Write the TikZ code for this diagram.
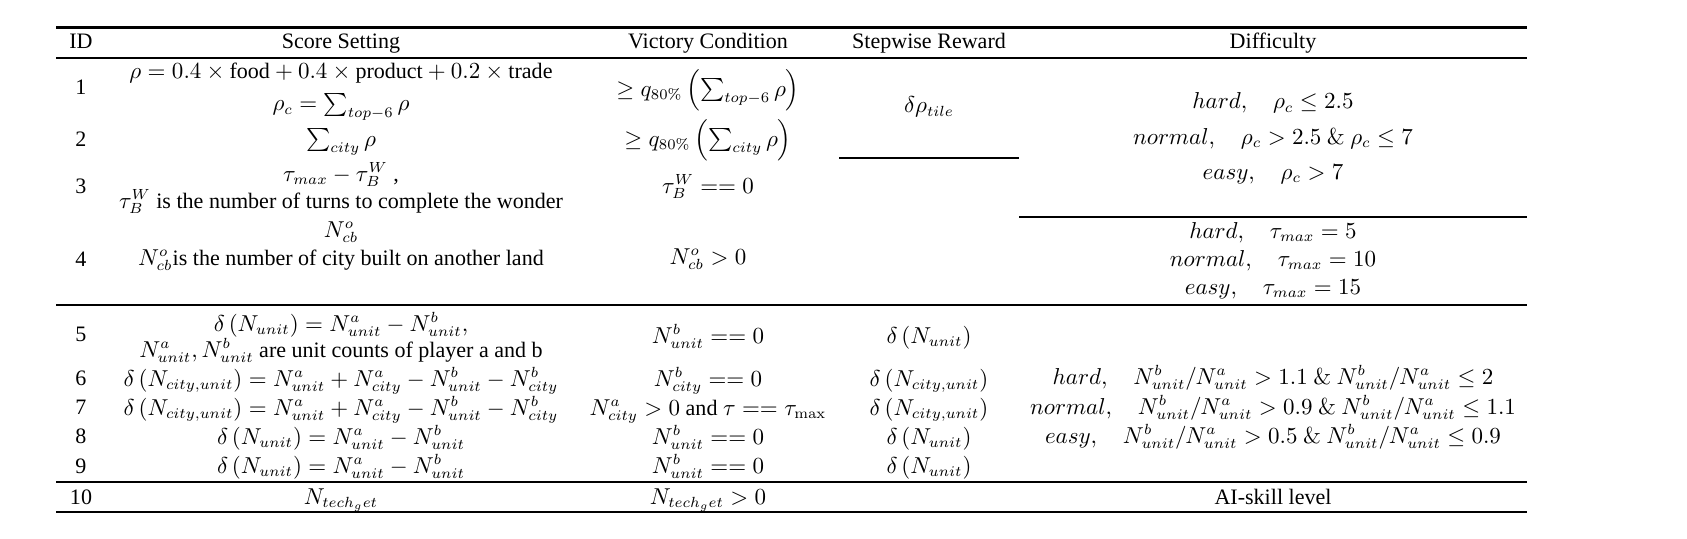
\documentclass[tikz,border=0pt]{standalone}
\usepackage[no-math]{fontspec}
\setmainfont{Liberation Serif}
\usepackage{amsmath}
\usetikzlibrary{positioning}

\tikzset{
  cell/.style={anchor=base,inner sep=0pt,font=\fontsize{10.5}{12.6}\selectfont},
  heavyrule/.style={line width=1.1pt},
  lightrule/.style={line width=0.55pt}
}

\begin{document}
\begin{tikzpicture}[x=0.4762pt,y=-0.4762pt]
  \useasboundingbox (0,0) rectangle (1687,539);
  % rules of the table
  \draw[heavyrule] (56,27.5) -- (1527,27.5);
  \draw[lightrule] (56,58) -- (1527,58);
  \draw[lightrule] (839,158) -- (1019,158);
  \draw[lightrule] (1019,217) -- (1527,217);
  \draw[lightrule] (56,305) -- (1527,305);
  \draw[lightrule] (56,482) -- (1527,482);
  \draw[heavyrule] (56,512) -- (1527,512);
  % header
  \node[cell] (hid) at (81,49) {ID};
  \node[cell] (hscore) at (341,49) {Score Setting};
  \node[cell] (hvict) at (708,49) {Victory Condition};
  \node[cell] (hstep) at (929,49) {Stepwise Reward};
  \node[cell] (hdiff) at (1273,49) {Difficulty};
  % ID column
  \foreach \i/\y in {1/95,2/146,3/193,4/266,5/341,6/385,7/414,8/443,9/473,10/504}
    \node[cell] (id\i) at (81,\y) {\i};
  % score setting
  \node[cell] (s1a) at (341,79) {$\rho = 0.4\times\text{food} + 0.4\times\text{product} + 0.2\times\text{trade}$};
  \node[cell] (s1b) at (341,111) {$\rho_c = \sum_{top-6}\rho$};
  \node[cell] (s2) at (341,146) {$\sum_{city}\rho$};
  \node[cell] (s3a) at (341,181) {$\tau_{max} - \tau_B^W$ ,};
  \node[cell] (s3b) at (341,208) {$\tau_B^W$ is the number of turns to complete the wonder};
  \node[cell] (s4a) at (341,237) {$N_{cb}^o$};
  \node[cell] (s4b) at (341,265) {$N_{cb}^o$is the number of city built on another land};
  \node[cell] (s5a) at (341,331) {$\delta\left(N_{unit}\right) = N_{unit}^a - N_{unit}^b,$};
  \node[cell] (s5b) at (341,357) {$N_{unit}^a, N_{unit}^b$ are unit counts of player a and b};
  \node[cell] (s6) at (341,386) {$\delta\left(N_{city,unit}\right) = N_{unit}^a + N_{city}^a - N_{unit}^b - N_{city}^b$};
  \node[cell] (s7) at (341,415) {$\delta\left(N_{city,unit}\right) = N_{unit}^a + N_{city}^a - N_{unit}^b - N_{city}^b$};
  \node[cell] (s8) at (341,444) {$\delta\left(N_{unit}\right) = N_{unit}^a - N_{unit}^b$};
  \node[cell] (s9) at (341,473) {$\delta\left(N_{unit}\right) = N_{unit}^a - N_{unit}^b$};
  \node[cell] (s10) at (341,504) {$N_{tech_get}$};
  % victory condition
  \node[cell] (v1) at (708,96) {$\geq q_{80\%}\left(\sum_{top-6}\rho\right)$};
  \node[cell] (v2) at (708,146) {$\geq q_{80\%}\left(\sum_{city}\rho\right)$};
  \node[cell] (v3) at (708,193) {$\tau_B^W == 0$};
  \node[cell] (v4) at (708,264) {$N_{cb}^o > 0$};
  \node[cell] (v5) at (708,343) {$N_{unit}^b == 0$};
  \node[cell] (v6) at (708,386) {$N_{city}^b == 0$};
  \node[cell] (v7) at (708,415) {$N_{city}^a > 0$ and $\tau == \tau_{\max}$};
  \node[cell] (v8) at (708,444) {$N_{unit}^b == 0$};
  \node[cell] (v9) at (708,473) {$N_{unit}^b == 0$};
  \node[cell] (v10) at (708,504) {$N_{tech_get} > 0$};
  % stepwise reward
  \node[cell] (r1) at (929,113) {$\delta\rho_{tile}$};
  \node[cell] (r5) at (929,343) {$\delta\left(N_{unit}\right)$};
  \node[cell] (r6) at (929,386) {$\delta\left(N_{city,unit}\right)$};
  \node[cell] (r7) at (929,415) {$\delta\left(N_{city,unit}\right)$};
  \node[cell] (r8) at (929,444) {$\delta\left(N_{unit}\right)$};
  \node[cell] (r9) at (929,473) {$\delta\left(N_{unit}\right)$};
  % difficulty
  \node[cell] (d1) at (1273,109) {$hard,\quad \rho_c\leq 2.5$};
  \node[cell] (d2) at (1273,144) {$normal,\quad \rho_c>2.5\ \&\ \rho_c\leq 7$};
  \node[cell] (d3) at (1273,179) {$easy,\quad \rho_c>7$};
  \node[cell] (d4) at (1273,238) {$hard,\quad \tau_{max}=5$};
  \node[cell] (d5) at (1273,266) {$normal,\quad \tau_{max}=10$};
  \node[cell] (d6) at (1273,294) {$easy,\quad \tau_{max}=15$};
  \node[cell] (d7) at (1273,384) {$hard,\quad N_{unit}^b/N_{unit}^a>1.1\ \&\ N_{unit}^b/N_{unit}^a\leq 2$};
  \node[cell] (d8) at (1273,414) {$normal,\quad N_{unit}^b/N_{unit}^a>0.9\ \&\ N_{unit}^b/N_{unit}^a\leq 1.1$};
  \node[cell] (d9) at (1273,443) {$easy,\quad N_{unit}^b/N_{unit}^a>0.5\ \&\ N_{unit}^b/N_{unit}^a\leq 0.9$};
  \node[cell] (d10) at (1273,504) {AI-skill level};
\end{tikzpicture}
\end{document}
